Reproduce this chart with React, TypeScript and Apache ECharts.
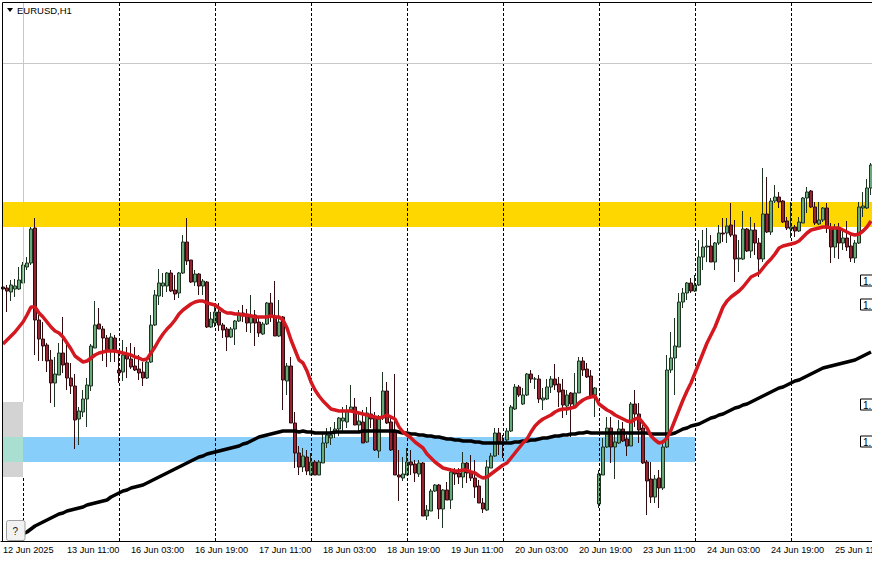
import React, { useEffect, useRef } from "react";
import * as echarts from "echarts";

// Values are in chart points above the lowest visible price (1 point = 0.6 pip).
const tickLabels = ["12 Jun 2025","13 Jun 11:00","16 Jun 03:00","16 Jun 19:00","17 Jun 11:00","18 Jun 03:00","18 Jun 19:00","19 Jun 11:00","20 Jun 03:00","20 Jun 19:00","23 Jun 11:00","24 Jun 03:00","24 Jun 19:00","25 Jun 11:00"];
const symbolLabel = "EURUSD,H1";
const priceTagLevels = [260, 236, 136, 99];
const dayBreaks = [5, 29, 53, 77, 101, 125, 149, 173, 197];
const resistanceBand = [314, 339];
const supportBand = [79, 104];
const greyBox = [64, 139];
const crosshairLevel = 478;

// [open, close, low, high]
const candles = [
[254,252,236,259],[253,250,229,256],[249,256,240,261],[252,255,244,262],[252,261,251,274],[258,276,258,279],[274,278,271,284],[278,312,276,314],[313,221,186,323],[221,202,180,226],
[202,195,180,219],[196,180,169,198],[181,158,138,191],[158,167,134,184],[166,188,166,198],[188,176,168,224],[178,163,151,198],[163,155,147,178],[155,121,92,167],[122,130,96,134],
[129,142,124,151],[142,156,114,163],[155,195,150,197],[193,216,193,240],[217,212,212,233],[212,203,180,215],[203,190,174,206],[190,204,179,208],[203,190,179,206],[171,168,158,188],
[169,186,160,201],[186,182,163,194],[182,174,172,198],[175,171,170,194],[172,168,161,186],[169,163,155,179],[163,179,162,183],[179,216,178,226],[216,246,215,251],[245,258,236,272],
[255,258,244,268],[255,268,249,269],[268,250,249,271],[251,247,241,266],[248,268,243,269],[268,299,267,306],[299,280,276,323],[281,259,258,281],[259,267,255,271],[267,255,246,268],
[255,260,246,262],[259,214,213,260],[214,222,213,229],[218,229,214,238],[229,216,210,238],[216,211,203,218],[212,204,190,214],[204,212,203,214],[212,220,196,221],[220,226,219,231],
[228,225,219,236],[226,218,209,232],[218,226,208,246],[226,218,195,231],[219,208,204,223],[207,217,206,219],[217,238,216,239],[238,225,219,248],[225,205,205,260],[205,219,204,241],
[224,161,131,225],[160,175,146,178],[175,118,118,184],[118,88,73,129],[88,74,66,95],[74,85,69,93],[84,70,66,91],[66,79,66,88],[79,66,66,81],[66,79,66,81],
[78,98,78,107],[98,106,93,113],[103,106,96,114],[108,112,103,119],[112,123,105,124],[120,123,109,134],[119,130,113,136],[131,134,129,156],[134,116,116,143],[116,120,109,128],
[119,98,98,131],[99,128,98,134],[127,122,113,144],[123,91,90,129],[90,122,83,126],[123,150,121,169],[150,118,117,159],[119,91,90,126],[109,66,66,167],[66,64,40,91],
[63,67,60,84],[66,79,66,93],[79,76,66,91],[77,68,59,81],[67,78,64,81],[78,25,25,79],[25,31,21,36],[30,50,30,52],[50,56,49,57],[56,32,22,57],
[32,51,13,52],[51,41,41,59],[41,69,32,73],[69,67,56,73],[68,64,57,73],[64,78,53,89],[78,68,58,79],[68,63,60,86],[63,54,43,81],[55,38,38,61],
[38,32,28,43],[31,74,30,81],[73,85,73,88],[85,108,84,113],[108,99,86,113],[99,98,83,106],[101,110,99,113],[110,134,109,136],[132,154,131,157],[154,146,144,156],
[137,146,136,153],[146,167,145,168],[167,162,158,171],[162,162,152,164],[162,142,138,166],[141,143,131,153],[142,154,141,162],[154,162,148,165],[162,156,151,177],[157,149,134,164],
[151,136,123,162],[135,146,126,151],[148,137,104,149],[134,148,134,168],[148,180,148,184],[180,171,165,184],[172,164,163,178],[165,145,144,171],[146,153,124,154],[37,67,33,71],
[66,94,66,103],[94,113,93,124],[113,94,78,124],[94,99,62,108],[98,112,97,121],[112,100,99,119],[102,95,85,106],[95,137,95,139],[137,127,114,151],[127,111,98,138],
[113,78,77,116],[79,60,26,81],[62,44,38,79],[44,62,38,66],[63,53,33,71],[53,94,51,101],[94,171,93,186],[171,183,168,209],[183,195,146,223],[194,239,194,248],
[239,248,233,253],[248,258,241,259],[258,250,248,263],[250,256,249,266],[256,284,255,301],[284,294,271,311],[294,295,279,313],[295,279,279,306],[279,298,271,299],[298,308,296,316],
[308,307,299,323],[308,315,298,323],[316,306,304,338],[306,282,259,321],[282,283,269,301],[282,312,281,330],[312,290,289,313],[290,311,283,324],[311,298,286,318],[298,282,264,303],
[282,327,279,373],[327,309,308,364],[309,340,306,343],[340,344,338,356],[344,339,333,349],[340,319,318,341],[320,313,311,324],[312,314,303,339],[314,310,304,316],[310,319,309,324],
[318,343,318,344],[343,349,328,354],[350,334,333,351],[334,318,316,339],[317,321,316,339],[321,333,319,334],[333,313,308,338],[313,294,278,318],[294,313,283,317],[313,298,282,318],
[298,303,291,313],[303,294,290,320],[295,283,279,308],[283,298,278,301],[298,334,297,339],[333,335,324,349],[333,353,332,362],[353,376,346,378],
];

const redAverage = [
197,201,205,209,214,219,226,234,234,228,
224,219,214,210,208,204,198,192,185,182,
179,180,183,186,188,189,190,190,190,189,
188,187,186,184,183,181,182,188,194,201,
207,212,216,221,227,231,234,237,239,240,
240,238,237,236,233,230,228,228,227,227,
226,226,225,224,224,224,224,225,224,224,
221,213,201,191,181,178,170,159,151,145,
140,136,132,131,130,130,130,130,129,128,
127,126,125,124,123,124,126,124,122,114,
109,106,103,99,96,93,87,83,79,76,
73,72,71,70,70,71,71,69,68,65,
63,64,67,70,73,76,78,83,88,93,
98,102,109,115,119,122,124,126,129,131,
132,132,133,134,138,141,143,144,145,137,
134,131,129,126,124,122,120,119,122,123,
118,113,105,101,98,99,103,111,121,131,
141,150,158,168,178,188,198,206,214,224,
234,240,244,247,250,254,259,264,266,268,
273,278,282,287,293,295,296,297,298,300,
304,308,311,312,313,314,314,313,313,313,
311,309,307,306,307,310,314,320,
];

const blackAverage = [
null,null,null,3,5,7,9,12,15,17,
19,21,23,25,27,28,30,31,32,33,
34,36,37,38,39,40,41,44,46,48,
50,51,53,54,55,56,58,60,62,64,
66,68,70,72,74,76,78,80,82,84,
85,87,88,89,90,91,92,93,94,95,
97,98,100,102,104,105,106,107,108,109,
110,110,110,110,109,110,109,109,108,108,
108,108,108,109,109,109,109,109,109,109,
110,110,110,110,110,110,110,110,110,109,
108,108,107,107,106,106,105,105,104,104,
103,102,102,101,101,100,100,100,99,99,
98,98,98,98,98,98,98,98,99,99,
100,100,101,101,102,103,103,104,105,105,
106,106,107,107,108,108,109,108,108,108,
108,108,108,108,108,108,108,108,108,108,
108,108,107,107,107,107,107,107,108,110,
112,113,115,116,117,119,121,123,124,126,
127,129,131,133,134,136,137,139,141,143,
145,147,149,151,153,154,156,158,160,161,
163,165,167,169,171,173,174,175,176,177,
178,179,180,181,183,185,187,189,
];

const font = "'Liberation Sans', Arial, sans-serif";
const lastIndex = candles.length; // one spare category so bands reach the right edge
const categories = Array.from({ length: lastIndex + 1 }, (_, i) => String(i));

export default function App() {
  const ref = useRef<HTMLDivElement>(null);
  useEffect(() => {
    const chart = echarts.init(ref.current!, undefined, { renderer: "svg" });
    const tags = priceTagLevels.map((v) => 541 - v);
    chart.setOption({
      animation: false,
      backgroundColor: "#ffffff",
      grid: { left: 1, top: 3, width: 876, height: 538, show: false, outerBoundsMode: "none", containLabel: false },
      xAxis: {
        type: "category",
        data: categories,
        boundaryGap: true,
        axisLine: { lineStyle: { color: "#000", width: 1 } },
        axisTick: { alignWithLabel: true, length: 4, interval: (i: number) => i % 16 === 0, lineStyle: { color: "#000" } },
        axisLabel: {
          interval: (i: number) => i % 16 === 0,
          formatter: (_: string, i: number) => tickLabels[i / 16] ?? "",
          align: "left",
          margin: 4,
          color: "#000",
          fontFamily: font,
          fontSize: 9.2,
        },
        splitLine: { show: false },
      },
      yAxis: { type: "value", min: 0, max: 538, show: false, splitLine: { show: false } },
      series: [
        {
          type: "line", data: [], z: 1, silent: true,
          markArea: {
            silent: true,
            data: [
              [{ xAxis: 0, yAxis: greyBox[1], itemStyle: { color: "#d3d3d3", opacity: 1 } }, { xAxis: 5, yAxis: greyBox[0] }],
              [{ xAxis: 0, yAxis: resistanceBand[1], itemStyle: { color: "#ffd700", opacity: 1 } }, { xAxis: lastIndex, yAxis: resistanceBand[0] }],
              [{ xAxis: 5, yAxis: supportBand[1], itemStyle: { color: "#87cefa", opacity: 1 } }, { xAxis: 173, yAxis: supportBand[0] }],
              [{ xAxis: 0, yAxis: supportBand[1], itemStyle: { color: "#a9dfd0", opacity: 1 } }, { xAxis: 5, yAxis: supportBand[0] }],
            ],
          },
        },
        {
          type: "line", data: [], z: 2, silent: true,
          markLine: {
            silent: true, symbol: "none", label: { show: false },
            lineStyle: { color: "#000", type: [3, 2], width: 1 },
            data: [
              ...dayBreaks.map((x, k) =>
                k === 0
                  ? [{ xAxis: x, yAxis: 0 }, { xAxis: x, yAxis: greyBox[0] }]
                  : [{ xAxis: x, yAxis: 0 }, { xAxis: x, yAxis: 538 }]),
              [{ xAxis: 5, yAxis: greyBox[1], lineStyle: { color: "#c8c8c8", type: "solid" } }, { xAxis: 5, yAxis: 538 }],
              [{ xAxis: 0, yAxis: crosshairLevel, lineStyle: { color: "#c8c8c8", type: "solid" } }, { xAxis: lastIndex, yAxis: crosshairLevel }],
            ],
          },
        },
        {
          type: "candlestick", data: candles, z: 3, barWidth: 3, silent: true,
          itemStyle: { color: "#68a876", color0: "#962430", borderColor: "#1f3325", borderColor0: "#2e0c10", borderWidth: 1 },
        },
        { type: "line", data: blackAverage, z: 4, symbol: "none", silent: true, lineStyle: { color: "#000", width: 3.5 } },
        { type: "line", data: redAverage, z: 5, symbol: "none", silent: true, lineStyle: { color: "#d4181f", width: 3.5 } },
      ],
      graphic: [
        { type: "line", z: 100, shape: { x1: 2.5, y1: 2.5, x2: 2.5, y2: 541 }, style: { stroke: "#000", lineWidth: 1 } },
        { type: "line", z: 100, shape: { x1: 2.5, y1: 2.5, x2: 872, y2: 2.5 }, style: { stroke: "#000", lineWidth: 1 } },
        { type: "polygon", z: 100, shape: { points: [[7, 8], [13, 8], [10, 12]] }, style: { fill: "#000" } },
        { type: "text", z: 100, x: 17, y: 5, style: { text: symbolLabel, fill: "#000", font: `9.5px ${font}` } },
        { type: "rect", z: 100, shape: { x: 6.5, y: 520.5, width: 18.5, height: 20, r: 2 }, style: { fill: "#f2f2f2", stroke: "#a0a0a0", lineWidth: 1 } },
        { type: "text", z: 101, x: 12.5, y: 526, style: { text: "?", fill: "#222", font: `10px ${font}` } },
        ...tags.flatMap((y) => [
          { type: "rect", z: 100, shape: { x: 860.5, y: y - 6, width: 14, height: 11 }, style: { fill: "#fff", stroke: "#000", lineWidth: 1 } },
          { type: "text", z: 101, x: 863, y: y - 5, style: { text: "1.", fill: "#000", font: `10px ${font}` } },
        ]),
      ],
    });
    return () => chart.dispose();
  }, []);
  return <div ref={ref} style={{ position: "fixed", left: 0, top: 0, width: 872, height: 562 }} />;
}
